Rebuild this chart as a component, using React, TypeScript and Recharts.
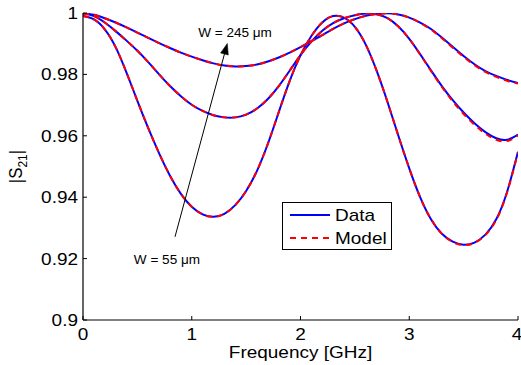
import React from 'react';
import {
  LineChart,
  Line,
  XAxis,
  YAxis,
  Legend,
  ReferenceLine,
  ReferenceDot,
} from 'recharts';

// ---- data ----
const freqs = [
  0.0, 0.1, 0.2, 0.3, 0.4, 0.5, 0.6, 0.7, 0.8, 0.9,
  1.0, 1.1, 1.2, 1.3, 1.4, 1.5, 1.6, 1.7, 1.8, 1.9,
  2.0, 2.1, 2.2, 2.3, 2.4, 2.5, 2.6, 2.7, 2.8, 2.9,
  3.0, 3.1, 3.2, 3.3, 3.4, 3.5, 3.6, 3.7, 3.8, 3.9, 4.0,
];

const dataW55 = [
  0.9990, 0.9979, 0.9947, 0.9889, 0.9806, 0.9714, 0.9625, 0.9543, 0.9470, 0.9411,
  0.9369, 0.9344, 0.9336, 0.9346, 0.9374, 0.9420, 0.9486, 0.9574, 0.9677, 0.9778,
  0.9862, 0.9925, 0.9969, 0.9990, 0.9985, 0.9955, 0.9897, 0.9812, 0.9710, 0.9600,
  0.9494, 0.9400, 0.9328, 0.9281, 0.9255, 0.9245, 0.9252, 0.9278, 0.9328, 0.9418, 0.9548,
];

const dataWmid = [
  0.9998, 0.9990, 0.9969, 0.9941, 0.9910, 0.9877, 0.9840, 0.9800, 0.9762, 0.9729,
  0.9701, 0.9681, 0.9667, 0.9660, 0.9660, 0.9669, 0.9689, 0.9720, 0.9762, 0.9812,
  0.9863, 0.9907, 0.9942, 0.9967, 0.9983, 0.9993, 0.9998, 0.9996, 0.9983, 0.9956,
  0.9916, 0.9866, 0.9813, 0.9762, 0.9716, 0.9676, 0.9641, 0.9612, 0.9592, 0.9587, 0.9604,
];

const dataW245 = [
  0.9999, 0.9994, 0.9983, 0.9969, 0.9953, 0.9936, 0.9919, 0.9902, 0.9886, 0.9871,
  0.9858, 0.9846, 0.9836, 0.9829, 0.9826, 0.9827, 0.9832, 0.9842, 0.9855, 0.9871,
  0.9889, 0.9908, 0.9928, 0.9948, 0.9966, 0.9980, 0.9991, 0.9997, 0.9999, 0.9995,
  0.9985, 0.9969, 0.9948, 0.9920, 0.9890, 0.9860, 0.9833, 0.9811, 0.9795, 0.9782, 0.9772,
];

const modelW55 = [
  0.9990, 0.9979, 0.9947, 0.9889, 0.9806, 0.9714, 0.9625, 0.9543, 0.9470, 0.9411,
  0.9369, 0.9344, 0.9336, 0.9346, 0.9374, 0.9420, 0.9486, 0.9574, 0.9677, 0.9778,
  0.9862, 0.9925, 0.9969, 0.9990, 0.9985, 0.9955, 0.9897, 0.9812, 0.9710, 0.9600,
  0.9494, 0.9400, 0.9328, 0.9281, 0.9254, 0.9244, 0.9251, 0.9277, 0.9326, 0.9416, 0.9546,
];

const modelWmid = [
  0.9998, 0.9990, 0.9969, 0.9941, 0.9910, 0.9877, 0.9840, 0.9800, 0.9762, 0.9729,
  0.9701, 0.9681, 0.9667, 0.9660, 0.9660, 0.9669, 0.9689, 0.9720, 0.9762, 0.9812,
  0.9863, 0.9907, 0.9942, 0.9967, 0.9983, 0.9993, 0.9998, 0.9996, 0.9983, 0.9956,
  0.9916, 0.9865, 0.9811, 0.9759, 0.9712, 0.9671, 0.9636, 0.9607, 0.9587, 0.9583, 0.9601,
];

const modelW245 = [
  0.9999, 0.9994, 0.9983, 0.9969, 0.9953, 0.9936, 0.9919, 0.9902, 0.9886, 0.9871,
  0.9858, 0.9846, 0.9836, 0.9829, 0.9826, 0.9827, 0.9832, 0.9842, 0.9855, 0.9871,
  0.9889, 0.9908, 0.9928, 0.9948, 0.9966, 0.9980, 0.9991, 0.9997, 0.9999, 0.9995,
  0.9985, 0.9968, 0.9946, 0.9918, 0.9887, 0.9857, 0.9830, 0.9808, 0.9792, 0.9779, 0.9770,
];

const xTicks = [0, 1, 2, 3, 4];
const yTicks = [0.9, 0.92, 0.94, 0.96, 0.98, 1];

const arrowStart = { f: 0.846, v: 0.9271 };
const arrowEnd = { f: 1.327, v: 0.9901 };
const labelTop = { f: 1.398, v: 0.9935, text: 'W = 245 μm' };
const labelBottom = { f: 0.772, v: 0.9195, text: 'W = 55 μm' };

const rows = freqs.map((f, i) => ({
  f,
  d55: dataW55[i],
  dmid: dataWmid[i],
  d245: dataW245[i],
  m55: modelW55[i],
  mmid: modelWmid[i],
  m245: modelW245[i],
}));

const FONT = '"Liberation Sans", Arial, Helvetica, sans-serif';
const FS = 16.8;
const SX = 1.13;

const XTick = (props: any) => {
  const { x, y, payload } = props;
  return (
    <g transform={`translate(${x},${y}) scale(${SX},1)`}>
      <text x={0} y={20} textAnchor="middle" fontSize={FS} fontFamily={FONT} fill="#000">
        {String(payload.value)}
      </text>
    </g>
  );
};

const YTick = (props: any) => {
  const { x, y, payload } = props;
  return (
    <g transform={`translate(${x},${y}) scale(${SX},1)`}>
      <text x={0} y={6} textAnchor="end" fontSize={FS} fontFamily={FONT} fill="#000">
        {String(payload.value)}
      </text>
    </g>
  );
};

const XLabel = (props: any) => {
  const vb = props.viewBox || { x: 83, y: 320, width: 435, height: 45 };
  const cx = vb.x + vb.width / 2;
  return (
    <g transform={`translate(${cx},${vb.y + 38}) scale(${SX},1)`}>
      <text x={0} y={0} textAnchor="middle" fontSize={FS} fontFamily={FONT} fill="#000">
        Frequency [GHz]
      </text>
    </g>
  );
};

const YLabel = (props: any) => {
  const vb = props.viewBox || { x: 0, y: 13, width: 83, height: 307 };
  const cy = vb.y + vb.height / 2;
  return (
    <g transform={`translate(${vb.x + 22},${cy}) rotate(-90) scale(1,${SX})`}>
      <text x={0} y={0} textAnchor="middle" fontSize={FS} fontFamily={FONT} fill="#000">
        |S<tspan fontSize={12} dy={4}>21</tspan>
        <tspan dy={-4}>|</tspan>
      </text>
    </g>
  );
};

const ArrowShape = (props: any) => {
  const { x1, y1, x2, y2 } = props;
  if ([x1, y1, x2, y2].some((v) => typeof v !== 'number' || isNaN(v))) return <g />;
  const ang = Math.atan2(y2 - y1, x2 - x1);
  const len = 11;
  const hw = 4;
  const bx = x2 - len * Math.cos(ang);
  const by = y2 - len * Math.sin(ang);
  const px = -Math.sin(ang) * hw;
  const py = Math.cos(ang) * hw;
  return (
    <g>
      <line x1={x1} y1={y1} x2={bx} y2={by} stroke="#000" strokeWidth={1} />
      <polygon
        points={`${x2},${y2} ${bx + px},${by + py} ${bx - px},${by - py}`}
        fill="#000"
        stroke="#000"
        strokeWidth={0.5}
      />
    </g>
  );
};

const makeTextShape = (text: string) => (props: any) => {
  const { cx, cy } = props;
  return (
    <g transform={`translate(${cx},${cy}) scale(${SX},1)`}>
      <text x={0} y={4} textAnchor="middle" fontSize={12} fontFamily={FONT} fill="#000">
        {text}
      </text>
    </g>
  );
};

const LegendBox = (props: any) => {
  const payload = (props.payload || []) as any[];
  const seen: Record<string, any> = {};
  payload.forEach((p) => {
    if (p && p.value && !seen[p.value]) seen[p.value] = p;
  });
  const items = Object.values(seen);
  return (
    <div
      style={{
        width: 110,
        height: 48,
        border: '1px solid #000',
        background: '#fff',
        boxSizing: 'border-box',
      }}
    >
      <svg width={108} height={46} style={{ display: 'block' }}>
        {items.map((it: any, i: number) => {
          const y = 12 + i * 23;
          const dashed = it.value === 'Model';
          return (
            <g key={it.value}>
              <line
                x1={7}
                y1={y}
                x2={47}
                y2={y}
                stroke={dashed ? '#ff0000' : '#0000ff'}
                strokeWidth={2}
                strokeDasharray={dashed ? '6 5' : undefined}
              />
              <g transform={`translate(52,${y + 6}) scale(${SX},1)`}>
                <text x={0} y={0} fontSize={FS} fontFamily={FONT} fill="#000">
                  {it.value}
                </text>
              </g>
            </g>
          );
        })}
      </svg>
    </div>
  );
};

export default function App() {
  return (
    <div style={{ position: 'absolute', left: 0, top: 0, width: 521, height: 365, background: '#fff' }}>
      <LineChart
        width={521}
        height={365}
        data={rows}
        margin={{ top: 13, right: 3, left: 0, bottom: 0 }}
      >
        <XAxis
          dataKey="f"
          type="number"
          domain={[0, 4]}
          ticks={xTicks}
          allowDataOverflow
          height={45}
          tickSize={-4}
          tickMargin={4}
          tick={<XTick />}
          axisLine={{ stroke: '#000', strokeWidth: 1.2 }}
          tickLine={{ stroke: '#000' }}
          label={<XLabel />}
        />
        <XAxis
          xAxisId="top"
          orientation="top"
          dataKey="f"
          type="number"
          domain={[0, 4]}
          ticks={xTicks}
          height={0}
          tickSize={-4}
          tick={false}
          axisLine={{ stroke: '#000', strokeWidth: 1.2 }}
          tickLine={{ stroke: '#000' }}
        />
        <YAxis
          type="number"
          domain={[0.9, 1]}
          ticks={yTicks}
          allowDataOverflow
          width={83}
          tickSize={-4}
          tickMargin={9}
          tick={<YTick />}
          axisLine={{ stroke: '#000', strokeWidth: 1.2 }}
          tickLine={{ stroke: '#000' }}
          label={<YLabel />}
        />
        <YAxis
          yAxisId="right"
          orientation="right"
          type="number"
          domain={[0.9, 1]}
          ticks={yTicks}
          width={0}
          tickSize={-4}
          tick={false}
          axisLine={{ stroke: '#000', strokeWidth: 1.2 }}
          tickLine={{ stroke: '#000' }}
        />
        <Line dataKey="d55" name="Data" type="natural" stroke="#0000ff" strokeWidth={2} dot={false} isAnimationActive={false} />
        <Line dataKey="dmid" name="Data" type="natural" stroke="#0000ff" strokeWidth={2} dot={false} isAnimationActive={false} />
        <Line dataKey="d245" name="Data" type="natural" stroke="#0000ff" strokeWidth={2} dot={false} isAnimationActive={false} />
        <Line dataKey="m55" name="Model" type="natural" stroke="#ff0000" strokeWidth={2} strokeDasharray="6 5" dot={false} isAnimationActive={false} />
        <Line dataKey="mmid" name="Model" type="natural" stroke="#ff0000" strokeWidth={2} strokeDasharray="6 5" dot={false} isAnimationActive={false} />
        <Line dataKey="m245" name="Model" type="natural" stroke="#ff0000" strokeWidth={2} strokeDasharray="6 5" dot={false} isAnimationActive={false} />
        <ReferenceLine
          segment={[
            { x: arrowStart.f, y: arrowStart.v },
            { x: arrowEnd.f, y: arrowEnd.v },
          ]}
          ifOverflow="visible"
          shape={(p: any) => <ArrowShape {...p} />}
        />
        <ReferenceDot x={labelTop.f} y={labelTop.v} r={0} ifOverflow="visible" shape={makeTextShape(labelTop.text)} />
        <ReferenceDot x={labelBottom.f} y={labelBottom.v} r={0} ifOverflow="visible" shape={makeTextShape(labelBottom.text)} />
        <Legend
          layout="vertical"
          align="center"
          verticalAlign="middle"
          content={<LegendBox />}
          wrapperStyle={{ left: 282, top: 202, width: 110, height: 48 }}
        />
      </LineChart>
    </div>
  );
}
